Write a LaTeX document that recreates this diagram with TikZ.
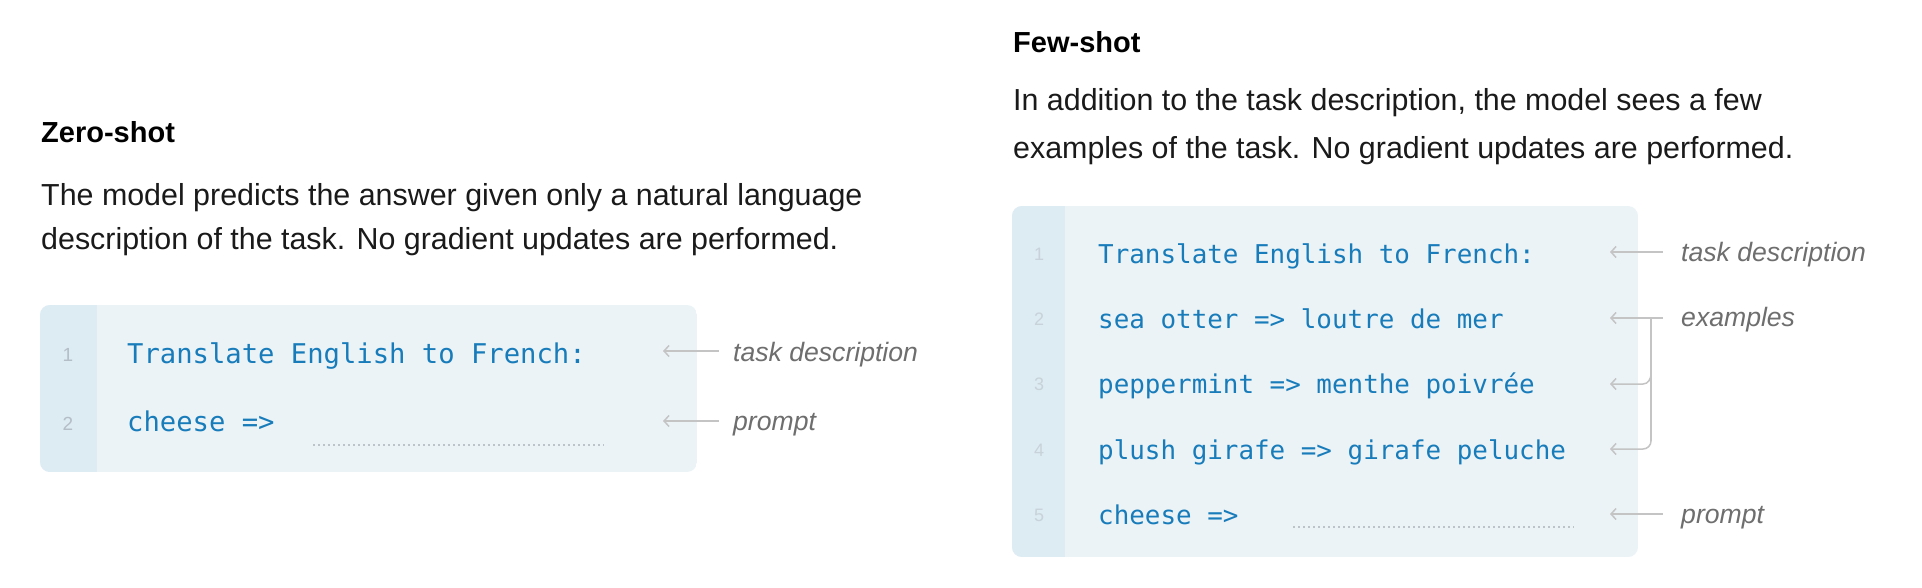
\documentclass[tikz,border=0pt]{standalone}
\usepackage{fontspec}
\setmainfont{Liberation Sans}
\newfontfamily\codefont{DejaVu Sans Mono}
\usetikzlibrary{arrows.meta}
\definecolor{boxbg}{HTML}{EBF3F7}
\definecolor{gutterbg}{HTML}{DDEBF3}
\definecolor{codeblue}{HTML}{187CBA}
\definecolor{numgray}{HTML}{B4BEC6}
\definecolor{numlight}{HTML}{C8D2D9}
\definecolor{labgray}{HTML}{6E6E6E}
\definecolor{arrgray}{HTML}{C4C4C4}
\definecolor{dotgray}{HTML}{BCC4C9}
\definecolor{bodyblack}{HTML}{1A1A1A}
\tikzset{
  heading/.style={anchor=base west, inner sep=0pt, font=\fontsize{29}{34}\selectfont\bfseries, text=black},
  body/.style={anchor=base west, inner sep=0pt, font=\fontsize{30.4}{36}\selectfont, text=bodyblack},
  codeL/.style={anchor=base west, inner sep=0pt, font=\codefont\fontsize{27.2}{32}\selectfont, text=codeblue},
  codeR/.style={anchor=base west, inner sep=0pt, font=\codefont\fontsize{25.9}{30}\selectfont, text=codeblue},
  linenum/.style={anchor=center, inner sep=0pt, font=\fontsize{19}{22}\selectfont, text=numgray},
  linenumR/.style={anchor=center, inner sep=0pt, font=\fontsize{18}{22}\selectfont, text=numlight},
  lab/.style={anchor=base west, inner sep=0pt, font=\fontsize{26.6}{32}\selectfont\itshape, text=labgray},
  pointer/.style={draw=arrgray, line width=1.5pt, -{Straight Barb[length=5pt,width=11pt]}},
  blank/.style={draw=dotgray, line width=2.4pt, dash pattern=on 2pt off 3pt},
}
\begin{document}
\begin{tikzpicture}[x=1pt,y=-1pt]
\useasboundingbox (0,0) rectangle (1922,588);
\fill[white] (0,0) rectangle (1922,588);

% ---------------- Zero-shot ----------------
\node[heading] (zh) at (41,143) {Zero-shot};
\node[body] (zp1) at (41,206) {The model predicts the answer given only a natural language};
\node[body] (zp2) at (41,250) {description of the task. No gradient updates are performed.};

\begin{scope}
  \clip[rounded corners=10pt] (40,305) rectangle (697,472);
  \fill[boxbg] (40,305) rectangle (697,472);
  \fill[gutterbg] (40,305) rectangle (97,472);
\end{scope}

\node[linenum] (zn1) at (68,355) {1};
\node[linenum] (zn2) at (68,424) {2};
\node[codeL] (zc1) at (127,363) {Translate English to French:};
\node[codeL] (zc2) at (127,431) {cheese =>};
\coordinate (zd1) at (313,445);
\coordinate (zd2) at (604,445);
\draw[blank] (zd1) -- (zd2);

\coordinate (za1s) at (719,351);
\coordinate (za1e) at (663,351);
\coordinate (za2s) at (719,421);
\coordinate (za2e) at (663,421);
\draw[pointer] (za1s) -- (za1e);
\draw[pointer] (za2s) -- (za2e);
\node[lab] (zl1) at (733,361) {task description};
\node[lab] (zl2) at (733,430) {prompt};

% ---------------- Few-shot ----------------
\node[heading] (fh) at (1013,53) {Few-shot};
\node[body] (fp1) at (1013,111) {In addition to the task description, the model sees a few};
\node[body] (fp2) at (1013,159) {examples of the task. No gradient updates are performed.};

\begin{scope}
  \clip[rounded corners=10pt] (1012,206) rectangle (1638,557);
  \fill[boxbg] (1012,206) rectangle (1638,557);
  \fill[gutterbg] (1012,206) rectangle (1065,557);
\end{scope}

\node[linenumR] (fn1) at (1039,254) {1};
\node[linenumR] (fn2) at (1039,319) {2};
\node[linenumR] (fn3) at (1039,384.5) {3};
\node[linenumR] (fn4) at (1039,450) {4};
\node[linenumR] (fn5) at (1039,515) {5};
\node[codeR] (fc1) at (1098,263) {Translate English to French:};
\node[codeR] (fc2) at (1098,328) {sea otter => loutre de mer};
\node[codeR] (fc3) at (1098,393.5) {peppermint => menthe poivrée};
\node[codeR] (fc4) at (1098,459) {plush girafe => girafe peluche};
\node[codeR] (fc5) at (1098,524) {cheese =>};
\coordinate (fd1) at (1293,527);
\coordinate (fd2) at (1574,527);
\draw[blank] (fd1) -- (fd2);

\coordinate (fa1s) at (1663,252);
\coordinate (fa1e) at (1610,252);
\coordinate (fa2s) at (1663,318);
\coordinate (fa2e) at (1610,318);
\coordinate (fa3e) at (1610,384);
\coordinate (fa4e) at (1610,449);
\coordinate (fa5s) at (1663,514);
\coordinate (fa5e) at (1610,514);
\coordinate (fbtop) at (1651,318);
\coordinate (fb3) at (1651,374);
\coordinate (fb3c) at (1643,384);
\coordinate (fb4) at (1651,441);
\coordinate (fb4c) at (1643,449);
\draw[pointer] (fa1s) -- (fa1e);
\draw[pointer] (fa2s) -- (fa2e);
\draw[draw=arrgray, line width=1.5pt] (fbtop) -- (fb4);
\draw[pointer] (fb3) to[out=-90,in=0] (fb3c) -- (fa3e);
\draw[pointer] (fb4) to[out=-90,in=0] (fb4c) -- (fa4e);
\draw[pointer] (fa5s) -- (fa5e);
\node[lab] (fl1) at (1681,261) {task description};
\node[lab] (fl2) at (1681,326) {examples};
\node[lab] (fl5) at (1681,523) {prompt};
\end{tikzpicture}
\end{document}
